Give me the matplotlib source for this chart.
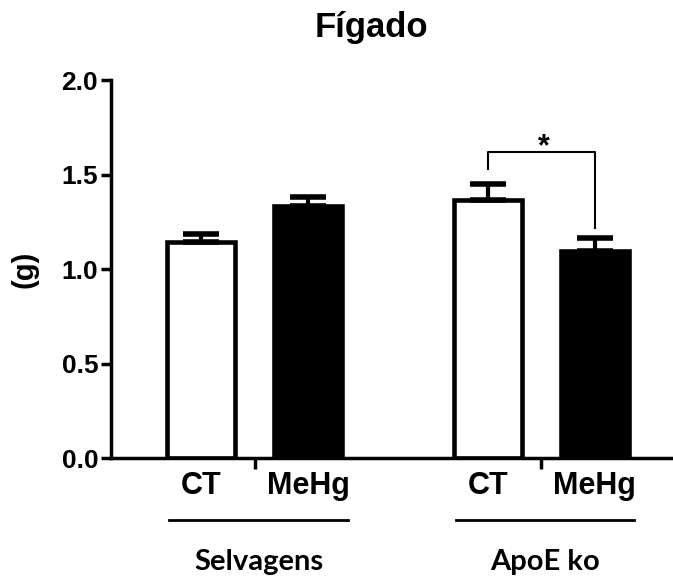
import matplotlib
matplotlib.use("Agg")
import matplotlib.pyplot as plt
import numpy as np

plt.rcParams["font.family"] = ["Liberation Sans", "DejaVu Sans"]
plt.rcParams["font.weight"] = "bold"

groups = ["Selvagens", "ApoE ko"]
treatments = ["CT", "MeHg", "CT", "MeHg"]
means = [1.143, 1.333, 1.365, 1.098]
sem = [0.044, 0.047, 0.086, 0.067]
fills = ["white", "black", "white", "black"]

# significance bracket between CT and MeHg of ApoE ko
sig_pair = (2, 3)
sig_top = 1.617
sig_feet = (1.531, 1.22)
sig_text = "*"

x = np.array([0, 1, 2.68, 3.68])
group_ticks = [(x[0] + x[1]) / 2, (x[2] + x[3]) / 2]

fig = plt.figure(figsize=(6.73, 5.76), dpi=100)
ax = fig.add_axes([111 / 673, 1 - 458.3 / 576, 1 - 111 / 673, (458.3 - 80) / 576])

ax.errorbar(x, means, yerr=[np.zeros(len(x)), sem], fmt="none", ecolor="black",
            elinewidth=3, capsize=13.3, capthick=4, zorder=3)
ax.bar(x, means, width=0.635, color=fills, edgecolor="black", linewidth=3.3, zorder=2)

# bracket + star
i, j = sig_pair
ax.plot([x[i], x[i], x[j], x[j]], [sig_feet[0], sig_top, sig_top, sig_feet[1]],
        color="black", lw=1.5, clip_on=False)
ax.text((x[i] + x[j]) / 2 + 0.02, 1.60, sig_text, ha="center", va="baseline",
        fontsize=22, fontweight="bold")

ax.set_xlim(-0.843, 4.41)
ax.set_ylim(0, 2.0)
for s in ["top", "right"]:
    ax.spines[s].set_visible(False)
for s in ["left", "bottom"]:
    ax.spines[s].set_linewidth(2.5)

ax.set_yticks([0, 0.5, 1.0, 1.5, 2.0])
ax.set_yticklabels([f"{v:.1f}" for v in [0, 0.5, 1.0, 1.5, 2.0]])
ax.tick_params(axis="y", length=7.2, width=2.5, pad=2, labelsize=19)

ax.set_xticks(x)
ax.set_xticklabels(treatments)
ax.set_xticks(group_ticks, minor=True)
ax.tick_params(axis="x", which="major", length=0, pad=9, labelsize=22)
ax.tick_params(axis="x", which="minor", length=8, width=2.5, direction="out")

# group lines and names under the tick labels
for g, name in enumerate(groups):
    x0 = x[2 * g] - 0.30
    x1 = x[2 * g + 1] + 0.37
    ax.plot([x0, x1], [-0.326, -0.326], color="black", lw=2, clip_on=False)
    ax.text((x0 + x1) / 2, -0.59, name, ha="center", va="baseline",
            fontsize=21, fontweight="bold", family="Lato")

fig.text(371 / 673, 1 - 37 / 576, "Fígado", ha="center", va="baseline",
         fontsize=25, fontweight="bold")
fig.text(25 / 673, 1 - 269 / 576, "(g)", rotation=90, ha="center", va="center",
         fontsize=21, fontweight="bold")

fig.savefig("out.png", dpi=100)
